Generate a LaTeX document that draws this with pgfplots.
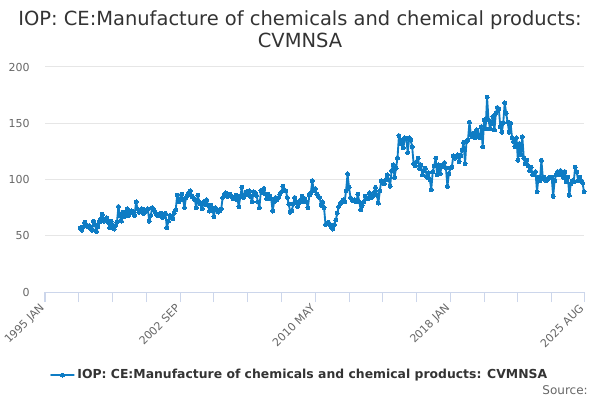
\documentclass[border=0pt]{standalone}
\usepackage{fontspec}
\setmainfont{DejaVu Sans}
\usepackage{pgfplots}
\pgfplotsset{compat=1.18}
\definecolor{series}{RGB}{14,124,196}
\definecolor{gridc}{HTML}{E6E6E6}
\definecolor{axisc}{HTML}{CCD6EB}
\definecolor{labc}{HTML}{666666}
\definecolor{titc}{HTML}{333333}
\pgfplotstableread{
m v
24 57
25 55
26 58
27 62
28 60
29 58
30 59
31 57
32 55
33 63
34 60
35 54
36 58
37 62
38 65
39 69
40 63
41 64
42 66
43 62
44 57
45 63
46 60
47 56
48 59
49 62
50 76
51 68
52 63
53 71
54 67
55 70
56 74
57 68
58 70
59 72
60 70
61 68
62 80
63 74
64 71
65 73
66 74
67 70
68 73
69 72
70 74
71 63
72 68
73 75
74 73
75 71
76 69
77 68
78 68
79 70
80 66
81 68
82 70
83 57
84 63
85 68
86 67
87 65
88 70
89 73
90 86
91 80
92 83
93 87
94 82
95 75
96 84
97 86
98 88
99 90
100 85
101 84
102 82
103 75
104 86
105 80
106 78
107 74
108 80
109 78
110 82
111 77
112 72
113 77
114 73
115 67
116 75
117 73
118 71
119 72
120 74
121 84
122 86
123 88
124 85
125 86
126 87
127 85
128 83
129 84
130 86
131 82
132 76
133 85
134 93
135 84
136 86
137 89
138 87
139 90
140 85
141 80
142 89
143 88
144 86
145 80
146 75
147 90
148 88
149 92
150 87
151 83
152 87
153 85
154 83
155 72
156 80
157 84
158 82
159 84
160 87
161 89
162 94
163 91
164 90
165 84
166 78
167 71
168 72
169 78
170 84
171 80
172 76
173 79
174 82
175 85
176 80
177 83
178 80
179 75
180 86
181 88
182 99
183 90
184 92
185 87
186 85
187 84
188 77
189 80
190 75
191 60
192 61
193 62
194 60
195 58
196 56
197 60
198 64
199 70
200 76
201 78
202 80
203 82
204 80
205 90
206 105
207 93
208 84
209 82
210 81
211 82
212 80
213 87
214 80
215 73
216 77
217 80
218 85
219 84
220 83
221 88
222 84
223 85
224 88
225 93
226 86
227 79
228 90
229 99
230 97
231 96
232 100
233 104
234 100
235 94
236 108
237 113
238 102
239 110
240 119
241 139
242 132
243 135
244 128
245 137
246 136
247 124
248 137
249 135
250 129
251 114
252 112
253 116
254 119
255 110
256 113
257 104
258 108
259 110
260 102
261 106
262 100
263 91
264 107
265 112
266 119
267 104
268 113
269 105
270 111
271 113
272 115
273 110
274 94
275 105
276 110
277 111
278 121
279 119
280 120
281 122
282 116
283 121
284 126
285 133
286 114
287 134
288 135
289 151
290 140
291 138
292 141
293 137
294 144
295 140
296 137
297 147
298 129
299 153
300 145
301 173
302 153
303 145
304 150
305 156
306 144
307 159
308 164
309 163
310 147
311 142
312 150
313 168
314 159
315 151
316 142
317 150
318 137
319 134
320 129
321 137
322 117
323 132
324 122
325 138
326 119
327 114
328 117
329 112
330 108
331 111
332 104
333 106
334 107
335 89
336 102
337 99
338 117
339 101
340 102
341 99
342 100
343 101
344 102
345 102
346 85
347 99
348 104
349 107
350 104
351 108
352 105
353 102
354 107
355 98
356 102
357 86
358 96
359 99
360 98
361 111
362 107
363 99
364 102
365 99
366 97
367 89
}\datatable
\begin{document}
\begin{tikzpicture}
\useasboundingbox (0pt,0pt) rectangle (450pt,300pt);
\begin{axis}[
  at={(33.75pt,81pt)}, anchor=south west,
  scale only axis, width=404.25pt, height=168.75pt,
  xmin=0, xmax=367, ymin=0, ymax=200,
  xtick={0,92,184,276,367},
  xticklabels={1995 JAN,2002 SEP,2010 MAY,2018 JAN,2025 AUG},
  minor xtick={23,46,69,115,138,161,207,230,253,299,322,345},
  ytick={0,50,100,150,200},
  axis x line*=bottom,
  axis y line*=left,
  y axis line style={draw=none},
  x axis line style={axisc, line width=0.75pt, -},
  xtick align=outside,
  major tick length=7.5pt, minor tick length=7.5pt,
  xtick style={axisc, line width=0.75pt},
  xminorgrids=false, xmajorgrids=false,
  ymajorgrids, grid style={gridc, line width=0.75pt},
  ytick style={draw=none},
  /pgf/number format/assume math mode=true,
  tick label style={font=\fontsize{8.25}{10}\selectfont, text=labc},
  xticklabel style={rotate=45, anchor=east, yshift=-1pt},
  yticklabel style={xshift=-8pt},
  legend style={at={(axis description cs:0.473,-0.369)}, anchor=center, draw=none, fill=none,
    font=\fontsize{9.3}{11}\selectfont\bfseries, text=titc},
  legend cell align=left,
  clip=false,
]
\addplot[series, line width=1.4pt, line join=round, line cap=round, mark=*, mark size=1.5pt, mark options={fill=series, draw=series, line width=0pt}] table[x=m, y=v] {\datatable};
\addlegendentry{IOP: CE:Manufacture of chemicals and chemical products: CVMNSA}
\end{axis}
\node[font=\fontsize{14.6}{16.5}\selectfont, text=titc, align=center] at (225pt,278.25pt) {IOP: CE:Manufacture of chemicals and chemical products:\\CVMNSA};
\node[font=\fontsize{9}{11}\selectfont, text=labc, anchor=east, inner sep=0pt] at (441pt,7.5pt) {Source:};
\end{tikzpicture}
\end{document}
